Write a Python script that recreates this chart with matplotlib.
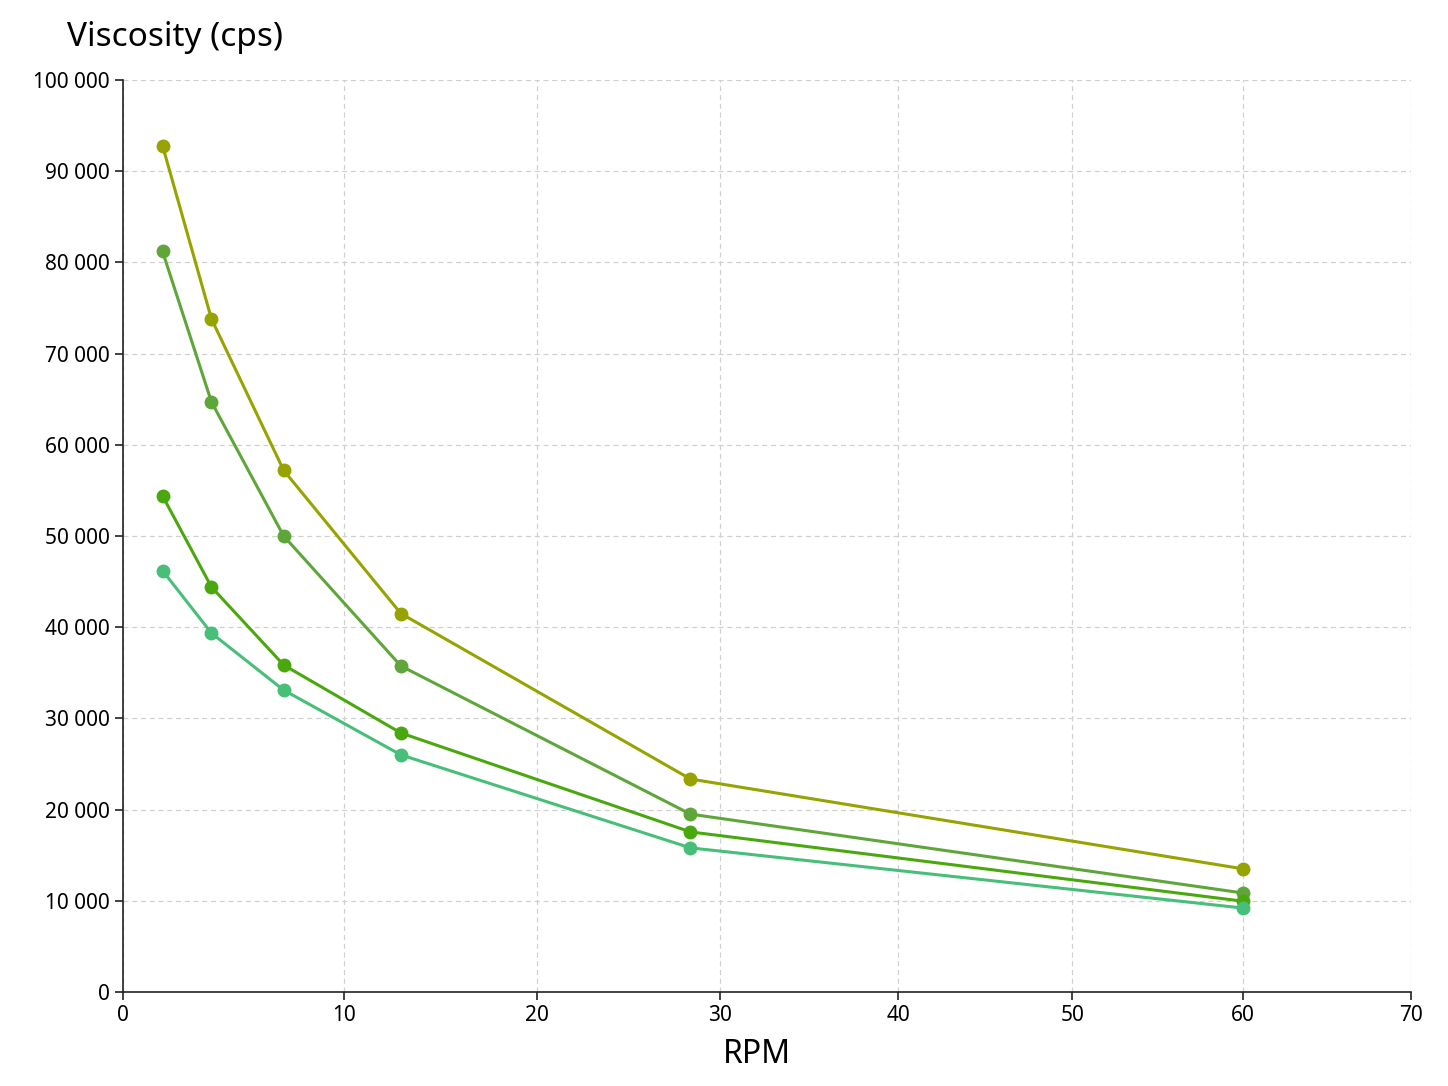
import matplotlib.pyplot as plt
from matplotlib.ticker import FuncFormatter
import numpy as np

plt.rcParams['font.family'] = ['Noto Sans', 'DejaVu Sans']

rpm = [1.5, 3.65, 7.05, 12.9, 28.35, 60]
series_a = [92800, 73800, 57200, 41500, 23350, 13500]
series_b = [81200, 64700, 50000, 35750, 19500, 10850]
series_c = [54400, 44400, 35850, 28400, 17550, 9950]
series_d = [46200, 39350, 33100, 26000, 15800, 9200]
colors = ['#97a300', '#5fa63a', '#4aa80e', '#47bf78']

fig = plt.figure(figsize=(14.48, 10.86), dpi=100)
ax = fig.add_axes([0.085, 0.0866, 0.8895, 0.8397])

# x axis is slightly compressed (power scale)
p = 0.907
ax.set_xscale('function', functions=(lambda v: np.sign(v) * np.abs(v) ** p,
                                     lambda v: np.sign(v) * np.abs(v) ** (1 / p)))

for ys, c in zip([series_a, series_b, series_c, series_d], colors):
    ax.plot(rpm, ys, color=c, lw=2.2, marker='o', ms=9, zorder=3)

ax.set_xlim(0, 70)
ax.set_ylim(0, 100000)
ax.set_xticks(range(0, 71, 10))
ax.set_yticks(range(0, 100001, 10000))
ax.yaxis.set_major_formatter(FuncFormatter(lambda v, _: f"{int(v):,}".replace(",", " ")))
ax.tick_params(labelsize=15, length=6, width=1.2, color='#222222')
ax.grid(True, ls=(0, (4, 3)), color='#d0d0d0', lw=0.9)
ax.set_axisbelow(True)
for s in ['top', 'right']:
    ax.spines[s].set_visible(False)
for s in ['left', 'bottom']:
    ax.spines[s].set_linewidth(1.2)
    ax.spines[s].set_color('#222222')

ax.set_xlabel('RPM', fontsize=23, labelpad=8)
ax.xaxis.set_label_coords(0.4925, -0.05)
fig.text(67 / 1448, 1 - 37 / 1086, 'Viscosity (cps)', fontsize=24, va='center', ha='left')

fig.savefig('out.png', dpi=100, facecolor='white')
